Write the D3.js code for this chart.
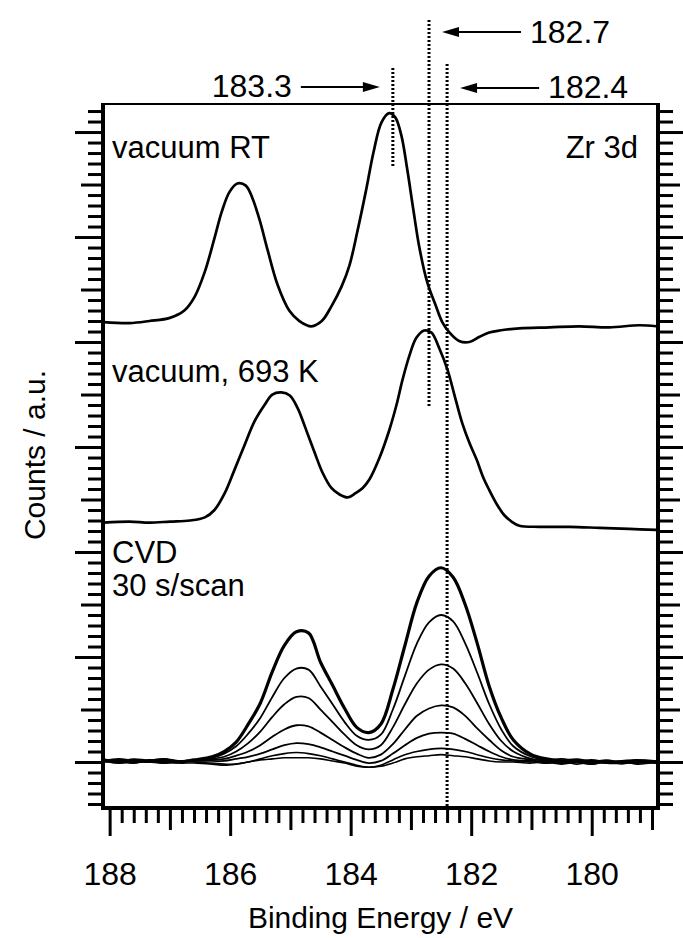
<!DOCTYPE html>
<html>
<head>
<meta charset="utf-8">
<script src="https://cdn.jsdelivr.net/npm/d3@7/dist/d3.min.js"></script>
<style>
  html, body { margin: 0; padding: 0; background: #fff; }
  svg { display: block; }
  text { font-family: "Liberation Sans", Arial, Helvetica, sans-serif; fill: #000; }
</style>
</head>
<body>
<svg id="chart" width="683" height="938"></svg>
<script>
// Zr 3d spectra: vacuum RT, vacuum 693 K, and successive CVD scans (30 s/scan)

// --- vacuum, room temperature ---
const energyRT = [188.10, 187.67, 187.34, 187.00, 186.76, 186.59, 186.42, 186.26, 186.14, 186.01,
  185.88, 185.74, 185.63, 185.51, 185.38, 185.21, 185.02, 184.85, 184.65, 184.48,
  184.32, 184.15, 184.02, 183.89, 183.75, 183.62, 183.49, 183.36, 183.26, 183.16,
  183.06, 182.96, 182.86, 182.73, 182.59, 182.48, 182.36, 182.20, 182.03, 181.86,
  181.70, 181.53, 181.20, 180.70, 180.21, 179.71, 179.21, 178.93];
const countsRT = [4.19, 4.18, 4.20, 4.23, 4.30, 4.43, 4.67, 4.99, 5.24, 5.43,
  5.51, 5.49, 5.37, 5.16, 4.88, 4.54, 4.30, 4.20, 4.15, 4.20,
  4.34, 4.53, 4.73, 5.05, 5.43, 5.81, 6.09, 6.18, 6.14, 5.97,
  5.64, 5.26, 4.90, 4.57, 4.35, 4.19, 4.09, 4.01, 4.00, 4.05,
  4.09, 4.11, 4.13, 4.14, 4.15, 4.14, 4.16, 4.15];

// --- vacuum, 693 K ---
const energy693 = [188.10, 187.67, 187.34, 187.00, 186.67, 186.42, 186.26, 186.09, 185.93, 185.76,
  185.60, 185.43, 185.30, 185.15, 185.01, 184.88, 184.75, 184.60, 184.47, 184.32,
  184.19, 184.05, 183.92, 183.80, 183.69, 183.52, 183.36, 183.24, 183.14, 183.02,
  182.91, 182.78, 182.66, 182.53, 182.39, 182.28, 182.15, 182.03, 181.91, 181.80,
  181.70, 181.57, 181.45, 181.33, 181.20, 180.87, 180.37, 179.87, 179.38, 178.93];
const counts693 = [2.28, 2.29, 2.28, 2.29, 2.30, 2.33, 2.40, 2.56, 2.78, 3.02,
  3.24, 3.40, 3.50, 3.52, 3.49, 3.37, 3.18, 2.95, 2.76, 2.61,
  2.55, 2.52, 2.56, 2.61, 2.69, 2.90, 3.16, 3.40, 3.64, 3.88,
  4.04, 4.11, 4.09, 3.94, 3.73, 3.50, 3.23, 3.04, 2.88, 2.71,
  2.59, 2.45, 2.35, 2.29, 2.25, 2.24, 2.24, 2.23, 2.22, 2.21];

// --- CVD scans (1 = first, 7 = last), shared energy grid ---
const energyCVD = [188.10, 187.85, 187.60, 187.35, 187.10, 186.85, 186.60,
  186.30, 186.10, 185.90, 185.70, 185.50, 185.30, 185.10, 184.90, 184.70, 184.50,
  184.30, 184.10, 183.90, 183.70, 183.50, 183.30, 183.10, 182.90, 182.70, 182.50,
  182.30, 182.10, 181.90, 181.70, 181.50, 181.30,
  181.00, 180.75, 180.50, 180.25, 180.00, 179.75, 179.50, 179.25, 178.93];
const cvdScan7 = [0.02, 0.00, 0.02, 0.01, 0.02, 0.00, 0.02,
  0.05, 0.10, 0.19, 0.36, 0.56, 0.86, 1.11, 1.24, 1.23, 0.95,
  0.73, 0.51, 0.33, 0.28, 0.36, 0.69, 1.11, 1.52, 1.77, 1.85,
  1.76, 1.50, 1.13, 0.72, 0.42, 0.21,
  0.07, 0.03, 0.01, 0.02, 0.00, 0.01, -0.01, 0.01, 0.00];
const cvdScan6 = [0.01, 0.02, 0.00, 0.01, 0.03, 0.01, 0.02,
  0.04, 0.08, 0.15, 0.27, 0.42, 0.62, 0.80, 0.89, 0.88, 0.72,
  0.55, 0.38, 0.25, 0.21, 0.26, 0.50, 0.82, 1.13, 1.33, 1.40,
  1.34, 1.13, 0.85, 0.55, 0.31, 0.15,
  0.05, 0.02, 0.03, 0.01, 0.02, 0.00, 0.01, 0.02, 0.00];
const cvdScan5 = [0.01, 0.03, 0.01, 0.00, 0.02, 0.01, 0.02,
  0.03, 0.05, 0.10, 0.18, 0.29, 0.43, 0.55, 0.62, 0.61, 0.50,
  0.38, 0.26, 0.16, 0.12, 0.16, 0.33, 0.55, 0.75, 0.88, 0.93,
  0.89, 0.75, 0.56, 0.36, 0.20, 0.10,
  0.03, 0.01, -0.01, 0.02, 0.00, 0.01, -0.01, 0.01, 0.01];
const cvdScan4 = [0.00, 0.01, -0.01, 0.02, 0.00, 0.01, 0.01,
  0.02, 0.03, 0.06, 0.10, 0.16, 0.24, 0.31, 0.35, 0.34, 0.28,
  0.21, 0.14, 0.08, 0.04, 0.07, 0.17, 0.31, 0.44, 0.51, 0.54,
  0.52, 0.44, 0.32, 0.21, 0.11, 0.05,
  0.02, -0.01, 0.01, 0.00, -0.02, 0.01, 0.00, -0.01, 0.01];
const cvdScan3 = [0.01, -0.01, 0.00, 0.01, -0.01, 0.00, 0.01,
  0.01, 0.01, 0.03, 0.05, 0.08, 0.12, 0.16, 0.18, 0.17, 0.14,
  0.10, 0.06, 0.02, -0.01, 0.01, 0.08, 0.16, 0.23, 0.27, 0.28,
  0.27, 0.22, 0.16, 0.10, 0.05, 0.02,
  0.01, 0.00, -0.02, 0.00, 0.01, -0.01, -0.01, 0.00, -0.01];
const cvdScan2 = [0.01, 0.00, 0.02, 0.00, -0.01, 0.01, 0.00,
  -0.01, -0.02, -0.02, 0.00, 0.03, 0.06, 0.08, 0.09, 0.08, 0.06,
  0.03, 0.00, -0.03, -0.05, -0.03, 0.02, 0.07, 0.10, 0.12, 0.13,
  0.12, 0.10, 0.07, 0.04, 0.02, 0.01,
  0.00, -0.01, 0.01, -0.02, 0.00, -0.01, 0.01, -0.02, 0.00];
const cvdScan1 = [0.00, 0.01, -0.01, 0.01, 0.00, -0.01, -0.01,
  -0.02, -0.03, -0.02, 0.00, 0.02, 0.03, 0.04, 0.04, 0.04, 0.03,
  0.01, -0.01, -0.04, -0.05, -0.04, -0.01, 0.03, 0.05, 0.06, 0.07,
  0.06, 0.05, 0.03, 0.01, 0.00, 0.00,
  -0.01, 0.01, -0.01, 0.00, -0.02, 0.00, -0.01, 0.01, -0.01];

// axis ticks
const xMajorTicks = [188, 186, 184, 182, 180];
const xMidTicks = [187, 185, 183, 181, 179];
const yMajorTicks = [0, 1, 2, 3, 4, 5, 6];
const yMidTicks = [0.5, 1.5, 2.5, 3.5, 4.5, 5.5];

// peak markers
const markers = [
  { energy: 183.3, label: "183.3", y0: 68, y1: 168, side: "left", arrowY: 87, textY: 97 },
  { energy: 182.7, label: "182.7", y0: 20, y1: 408, side: "right", arrowY: 32, textY: 43 },
  { energy: 182.4, label: "182.4", y0: 64, y1: 808, side: "right", arrowY: 88, textY: 98 }
];

const svg = d3.select("#chart");
const plotL = 103, plotR = 658, plotT = 104, plotB = 808;

const x = d3.scaleLinear().domain([188.11, 178.9]).range([plotL, plotR]);
const y = d3.scaleLinear().domain([-0.438, 6.267]).range([plotB, plotT]);

const minorX = d3.range(179, 188.001, 0.2).map(v => +v.toFixed(1))
  .filter(v => !xMajorTicks.includes(v) && !xMidTicks.includes(v));
const minorY = d3.range(-4, 63).map(i => +(i / 10).toFixed(1))
  .filter(v => !yMajorTicks.includes(v) && !yMidTicks.includes(v));

function tickLayer(axisGen, values, size, transform) {
  const g = svg.append("g").attr("transform", transform)
    .call(axisGen.tickValues(values).tickSize(size).tickFormat(""));
  g.select(".domain").remove();
  g.selectAll(".tick line").attr("stroke", "#000").attr("stroke-width", 3);
  return g;
}

// bottom axis
tickLayer(d3.axisBottom(x), minorX, 15, `translate(0,${plotB})`);
tickLayer(d3.axisBottom(x), xMidTicks, 22, `translate(0,${plotB})`);
const xMaj = svg.append("g").attr("transform", `translate(0,${plotB})`)
  .call(d3.axisBottom(x).tickValues(xMajorTicks).tickSize(28).tickPadding(26).tickFormat(d3.format("d")));
xMaj.select(".domain").remove();
xMaj.selectAll(".tick line").attr("stroke", "#000").attr("stroke-width", 3);
xMaj.selectAll(".tick text").attr("font-size", 32)
  .attr("font-family", "'Liberation Sans', Arial, sans-serif").attr("fill", "#000");

// left and right axes (ticks outward, no labels)
[[d3.axisLeft(y), plotL], [d3.axisRight(y), plotR]].forEach(([gen, xp]) => {
  tickLayer(gen, minorY, 15, `translate(${xp},0)`);
  tickLayer(gen, yMidTicks, 22, `translate(${xp},0)`);
  tickLayer(gen, yMajorTicks, 28, `translate(${xp},0)`);
});

// frame
svg.append("line").attr("x1", plotL).attr("x2", plotR).attr("y1", plotT).attr("y2", plotT)
  .attr("stroke", "#000").attr("stroke-width", 2);
svg.append("line").attr("x1", plotL - 2).attr("x2", plotR + 2).attr("y1", plotB).attr("y2", plotB)
  .attr("stroke", "#000").attr("stroke-width", 4);
svg.append("line").attr("x1", plotL).attr("x2", plotL).attr("y1", plotT - 1).attr("y2", plotB)
  .attr("stroke", "#000").attr("stroke-width", 4);
svg.append("line").attr("x1", plotR).attr("x2", plotR).attr("y1", plotT - 1).attr("y2", plotB)
  .attr("stroke", "#000").attr("stroke-width", 4);

// spectra
const line = d3.line().x(d => x(d[0])).y(d => y(d[1])).curve(d3.curveCatmullRom.alpha(0.5));
const zip = (e, c) => e.map((v, i) => [v, c[i]]);

const spectra = [
  { e: energyRT, c: countsRT, w: 2.7 },
  { e: energy693, c: counts693, w: 2.7 },
  { e: energyCVD, c: cvdScan1, w: 1.6 },
  { e: energyCVD, c: cvdScan2, w: 1.6 },
  { e: energyCVD, c: cvdScan3, w: 1.8 },
  { e: energyCVD, c: cvdScan4, w: 1.8 },
  { e: energyCVD, c: cvdScan5, w: 1.8 },
  { e: energyCVD, c: cvdScan6, w: 1.8 },
  { e: energyCVD, c: cvdScan7, w: 3.2 }
];
svg.append("g").selectAll("path").data(spectra).join("path")
  .attr("d", d => line(zip(d.e, d.c)))
  .attr("fill", "none").attr("stroke", "#000")
  .attr("stroke-width", d => d.w).attr("stroke-linejoin", "round");

// peak position markers
const mk = svg.append("g");
markers.forEach(m => {
  const xm = x(m.energy);
  mk.append("line").attr("x1", xm).attr("x2", xm).attr("y1", m.y0).attr("y2", m.y1)
    .attr("stroke", "#000").attr("stroke-width", 3).attr("stroke-dasharray", "2,2");
  const dir = m.side === "left" ? -1 : 1;
  const tip = xm + dir * 13;
  const tail = xm + dir * 92;
  mk.append("line").attr("x1", tip + dir * 14).attr("x2", tail).attr("y1", m.arrowY).attr("y2", m.arrowY)
    .attr("stroke", "#000").attr("stroke-width", 2);
  mk.append("path")
    .attr("d", `M${tip},${m.arrowY} L${tip + dir * 17},${m.arrowY - 5} L${tip + dir * 17},${m.arrowY + 5} Z`)
    .attr("fill", "#000");
  mk.append("text").attr("x", tail + dir * 9).attr("y", m.textY)
    .attr("text-anchor", m.side === "left" ? "end" : "start")
    .attr("font-size", 32).text(m.label);
});

// in-plot labels
const labels = [
  { t: "vacuum RT", x: 112, y: 158, a: "start" },
  { t: "Zr 3d", x: 638, y: 158, a: "end" },
  { t: "vacuum, 693 K", x: 112, y: 382, a: "start" },
  { t: "CVD", x: 112, y: 563, a: "start" },
  { t: "30 s/scan", x: 112, y: 596, a: "start" }
];
svg.append("g").selectAll("text").data(labels).join("text")
  .attr("x", d => d.x).attr("y", d => d.y).attr("text-anchor", d => d.a)
  .attr("font-size", 31).text(d => d.t);

// axis titles
svg.append("text").attr("x", (plotL + plotR) / 2).attr("y", 928).attr("text-anchor", "middle")
  .attr("font-size", 30).text("Binding Energy / eV");
svg.append("text").attr("transform", "translate(45,455) rotate(-90)").attr("text-anchor", "middle")
  .attr("font-size", 30).text("Counts / a.u.");
</script>
</body>
</html>
